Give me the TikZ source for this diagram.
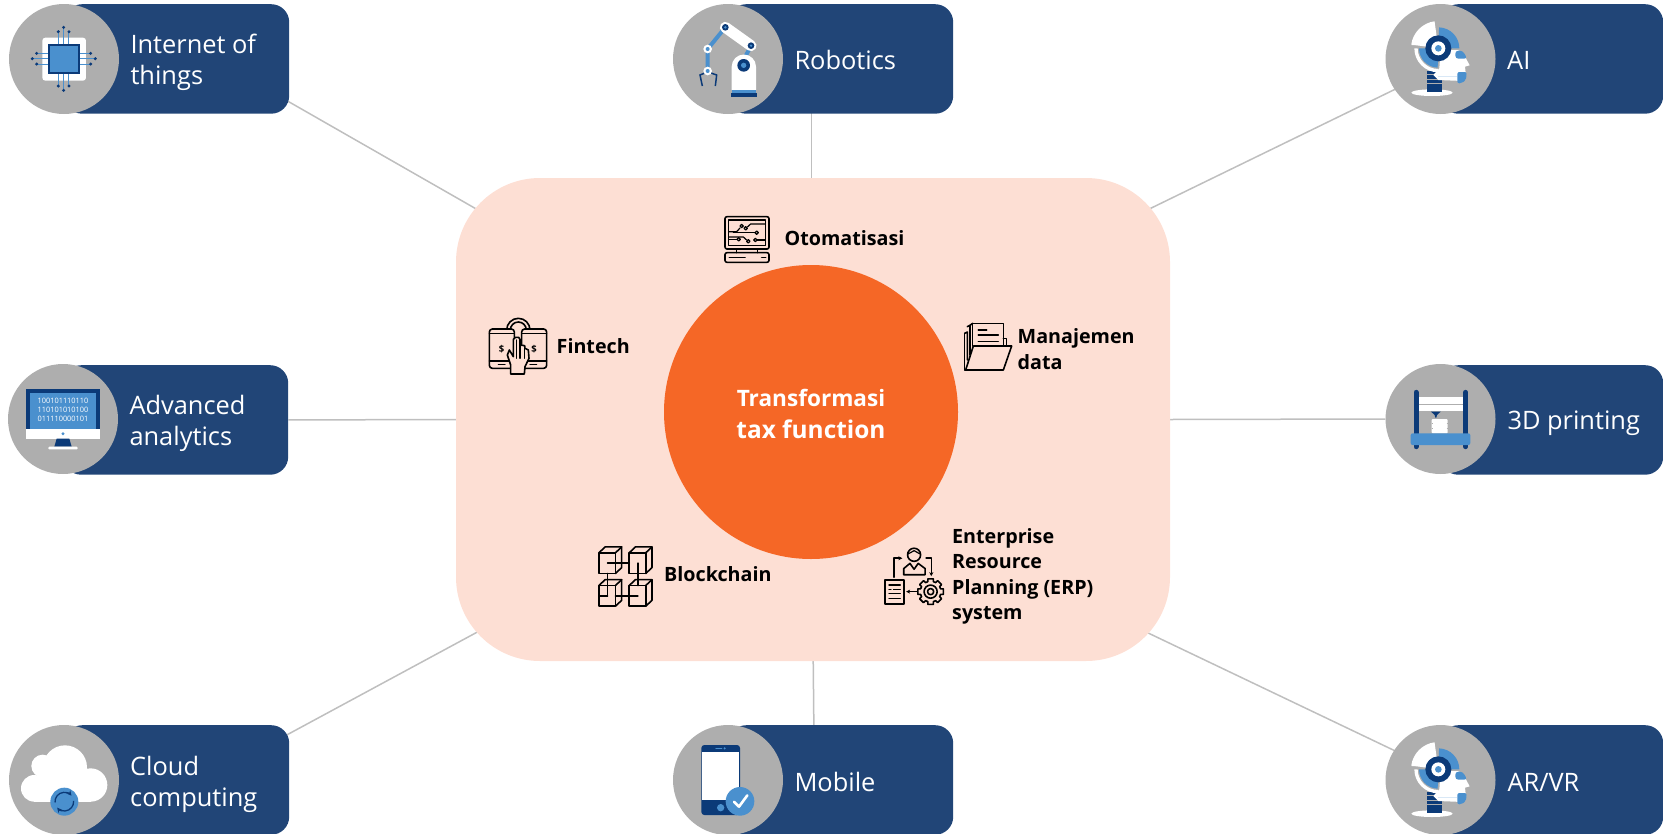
\documentclass[tikz,border=0pt]{standalone}
\usepackage{fontspec}
\setmainfont{Open Sans}
\usetikzlibrary{backgrounds,arrows.meta}
\definecolor{navy}{HTML}{214577}
\definecolor{discgray}{HTML}{AEAEAE}
\definecolor{icdark}{HTML}{0B3A78}
\definecolor{icblue}{HTML}{4A90CE}
\definecolor{iclight}{HTML}{D9E8F6}
\definecolor{hubfill}{HTML}{FDDFD4}
\definecolor{corefill}{HTML}{F56726}
\definecolor{linkgray}{HTML}{BFBFBF}
\tikzset{
  navybox/.style={fill=navy,rounded corners=18pt,minimum height=109.5pt,inner sep=0pt,anchor=north west},
  graydisc/.style={circle,fill=discgray,minimum size=110pt,inner sep=0pt},
  link/.style={draw=linkgray,line width=1.5pt},
  boxlabel/.style={text=white,font=\fontsize{25.4}{31}\selectfont,align=left,inner sep=0pt,anchor=base west},
  hublabel/.style={text=black,font=\fontsize{19.7}{25.4}\selectfont\bfseries,align=left,inner sep=0pt,anchor=base west},
  ink/.style={draw=black,line width=1.6pt,line join=round,line cap=round},
  thinink/.style={draw=black,line width=1.2pt,line join=round,line cap=round},
  zoomed/.style={x=0.33333pt,y=-0.33333pt},
  zoomedb/.style={x=0.3444pt,y=-0.3444pt},
}
\newcommand\ringsec[6]{([shift={(#1,#2)}]#3:#5) arc[start angle=#3,end angle=#4,radius=#5] -- ([shift={(#1,#2)}]#4:#6) arc[start angle=#4,end angle=#3,radius=#6] -- cycle}
\newcommand\headicon{%
  \fill[white] (186,278) ellipse [x radius=62,y radius=10];
  \foreach \yy in {212,226,239,252,265}{\fill[icdark] (170,\yy) rectangle (215,\yy+11);}
  \fill[white] \ringsec{205}{145}{188}{262}{82}{30};
  \fill[white] (125,135) -- (200,135) -- (200,125) -- (130,120) -- cycle;
  \fill[icblue] \ringsec{205}{145}{272}{360}{63}{30};
  \fill[white] (245,150) -- (268,150) -- (266,172) -- (245,172) -- cycle;
  \fill[white] \ringsec{205}{145}{90}{180}{72}{62};
  \fill[icblue] \ringsec{205}{145}{92}{180}{58}{30};
  \fill[white] (212,150) -- (258,150) -- (285,170) -- (299,196) -- (285,200) -- (288,228) -- (278,243) -- (205,240) -- (190,225) -- (208,205) -- cycle;
  \fill[icblue,rounded corners=3pt] (256,152) -- (278,152) -- (292,176) -- (256,176) -- cycle;
  \fill[icblue,rounded corners=2pt] (262,216) -- (290,216) -- (288,240) -- (274,250) -- (262,250) -- cycle;
  \draw[iclight,line width=0.8pt] (205,230) -- (260,230);
  \fill[icdark] (205,145) circle (39);
  \fill[white] (205,145) circle (21);
  \fill[icblue] (205,145) circle (10);
}
\begin{document}
\begin{tikzpicture}[x=1pt,y=-1pt]
\useasboundingbox (0,0) rectangle (1663,833);
% hub
\node[fill=hubfill,rounded corners=84pt,minimum width=714pt,minimum height=483pt,inner sep=0pt] (hub) at (813,419.5) {};
\node[circle,fill=corefill,minimum size=294pt,inner sep=0pt] (core) at (811,412) {};
\node[text=white,font=\fontsize{22.6}{32}\selectfont\bfseries,align=center,inner sep=0pt] (coretext) at (811,414) {Transformasi\\\fontsize{24.4}{32}\selectfont tax function};
% boxes
\node[navybox,minimum width=225pt] (iotbox) at (64,4) {};
\node[navybox,minimum width=225pt] (robbox) at (728,4) {};
\node[navybox,minimum width=223pt] (aibox) at (1440,4) {};
\node[navybox,minimum width=225pt] (advbox) at (63,365) {};
\node[navybox,minimum width=223pt] (prtbox) at (1440,365) {};
\node[navybox,minimum width=225pt] (cldbox) at (64,725) {};
\node[navybox,minimum width=225pt] (mobbox) at (728,725) {};
\node[navybox,minimum width=223pt] (arbox) at (1440,725) {};
\node[graydisc] (iotdisc) at (64,59) {};
\node[graydisc] (robdisc) at (728,59) {};
\node[graydisc] (aidisc) at (1440.5,59) {};
\node[graydisc] (advdisc) at (63,419) {};
\node[graydisc] (prtdisc) at (1440.5,419) {};
\node[graydisc] (clddisc) at (64,780) {};
\node[graydisc] (mobdisc) at (728,780) {};
\node[graydisc] (ardisc) at (1440.5,780) {};
% connector ends
\coordinate (iotend) at (270,91);   \coordinate (hubnw) at (520,234);
\coordinate (robend) at (811.7,100); \coordinate (hubn) at (811.7,200);
\coordinate (aiend) at (1410,82);   \coordinate (hubne) at (1100,233);
\coordinate (cldend) at (270,744);  \coordinate (hubsw) at (520,609);
\coordinate (mobend) at (814,740);  \coordinate (hubs) at (813,640);
\coordinate (arend) at (1410,758);  \coordinate (hubse) at (1100,610);
\begin{scope}[on background layer]
  \draw[link] (iotend) -- (hubnw);
  \draw[link] (robend) -- (hubn);
  \draw[link] (aiend) -- (hubne);
  \draw[link] (advbox.east) -- (hub.west);
  \draw[link] (hub.east) -- (prtdisc.west);
  \draw[link] (cldend) -- (hubsw);
  \draw[link] (mobend) -- (hubs);
  \draw[link] (arend) -- (hubse);
\end{scope}
% labels
\node[boxlabel] (iotlabel) at (130.3,84) {Internet of\\things};
\node[boxlabel] (roblabel) at (794.3,69) {Robotics};
\node[boxlabel] (ailabel) at (1507,69) {AI};
\node[boxlabel] (advlabel) at (129.3,445.5) {Advanced\\analytics};
\node[boxlabel] (prtlabel) at (1507.3,429.5) {3D printing};
\node[boxlabel] (cldlabel) at (130,806.5) {Cloud\\computing};
\node[boxlabel] (moblabel) at (794.3,791) {Mobile};
\node[boxlabel] (arlabel) at (1507.3,791) {AR/VR};
\node[hublabel] (otolabel) at (784.5,245) {Otomatisasi};
\node[hublabel] (finlabel) at (556.5,353.5) {Fintech};
\node[hublabel] (manlabel) at (1017.5,369) {Manajemen\\data};
\node[hublabel] (blklabel) at (664,581.5) {Blockchain};
\node[hublabel] (erplabel) at (952,619.5) {Enterprise\\Resource\\Planning (ERP)\\system};
% IoT icon
\begin{scope}[shift={(0,0)},zoomed]
  \fill[white,rounded corners=3pt] (127,113) rectangle (258,242);
  \foreach \xa/\ya in {175/95,191/82,207/95}{
    \draw[icblue,line width=1pt] (\xa,\ya) -- (\xa,132);
    \fill[icdark] (\xa,\ya) circle (5);}
  \foreach \xa/\ya in {175/258,191/271,207/258}{
    \draw[icblue,line width=1pt] (\xa,\ya) -- (\xa,222);
    \fill[icdark] (\xa,\ya) circle (5);}
  \foreach \xa/\ya in {110/160,97/176,110/192}{
    \draw[icblue,line width=1pt] (\xa,\ya) -- (146,\ya);
    \fill[icdark] (\xa,\ya) circle (5);}
  \foreach \xa/\ya in {272/160,286/176,272/192}{
    \draw[icblue,line width=1pt] (\xa,\ya) -- (238,\ya);
    \fill[icdark] (\xa,\ya) circle (5);}
  \draw[fill=icblue,draw=icdark,line width=1.8pt] (148,134) rectangle (236,220);
\end{scope}
% Robot icon
\begin{scope}[shift={(660,0)},zoomed]
  \draw[icblue,line width=4pt] (196,82) -- (143,147) -- (143,213);
  \draw[icblue,line width=4pt] (273,137) -- (255,172);
  \draw[white,line width=11pt,line cap=round] (196,82) -- (273,137);
  \fill[icdark] (196,82) circle (10); \fill[icblue] (196,82) circle (4);
  \fill[icdark] (273,137) circle (10); \fill[icblue] (273,137) circle (4);
  \fill[white] (143,147) circle (13); \fill[icblue] (143,147) circle (6);
  \draw[icdark,line width=1.5pt] (127,258) -- (120,225) -- (137,218);
  \draw[icdark,line width=1.5pt] (166,258) -- (170,225) -- (150,218);
  \fill[white] (143,213) circle (13); \fill[icblue] (143,213) circle (6);
  \fill[white] (215,270) -- (215,200) arc[start angle=180,end angle=360,radius=36.5] -- (288,270) -- cycle;
  \fill[icblue] (215,270) rectangle (288,278);
  \fill[icdark] (212,278) rectangle (291,290);
  \fill[icdark] (251,196) circle (19); \fill[icblue] (251,196) circle (8);
\end{scope}
% AI and AR icons
\begin{scope}[shift={(1370,0)},zoomed] \headicon \end{scope}
\begin{scope}[shift={(1370,721)},zoomed] \headicon \end{scope}
% Monitor icon
\begin{scope}[shift={(0,350)},zoomed]
  \fill[icdark] (79,118) rectangle (299,237);
  \fill[icblue] (90,128) rectangle (288,237);
  \fill[white] (79,237) rectangle (299,266);
  \fill[icblue] (189,251) circle (5);
  \fill[icdark] (170,266) -- (208,266) -- (215,290) -- (163,290) -- cycle;
  \fill[white,rounded corners=1pt] (145,290) rectangle (233,298);
  \node[text=white,font=\fontsize{7.4}{8.8}\selectfont,align=center,inner sep=0pt] (bits) at (189,179) {100101110110\\110101010100\\011110000101};
\end{scope}
% Printer icon
\begin{scope}[shift={(1370,350)},zoomed]
  \fill[white] (146,142) rectangle (279,162);
  \fill[white] (146,166) rectangle (279,182);
  \fill[icdark] (183,185) -- (212,185) -- (201,195) -- (199,203) -- (196,203) -- (194,195) -- cycle;
  \fill[white,rounded corners=1pt] (185,207) rectangle (233,250);
  \foreach \yy in {220,235}{\draw[discgray,line width=0.4pt] (185,\yy) -- (188,\yy);\draw[discgray,line width=0.4pt] (230,\yy) -- (233,\yy);}
  \draw[icdark,line width=5pt,line cap=round] (138,127) -- (138,290);
  \draw[icdark,line width=5pt,line cap=round] (287,127) -- (287,290);
  \fill[icblue,rounded corners=2pt] (122,250) -- (301,250) -- (301,285) -- (122,285) -- cycle;
\end{scope}
% Cloud icon
\begin{scope}[shift={(0,710)},zoomed]
  \fill[white] (103,235) circle (40);
  \fill[white] (128,168) circle (34);
  \fill[white] (195,172) circle (66);
  \fill[white] (272,225) circle (50);
  \fill[white] (103,200) rectangle (272,275);
  \fill[icblue] (193,275) circle (42);
  \draw[icdark,line width=1.3pt,-{Stealth[length=5pt,width=5pt]}] ([shift={(193,275)}]175:28) arc[start angle=175,end angle=320,radius=28];
  \draw[icdark,line width=1.3pt,-{Stealth[length=5pt,width=5pt]}] ([shift={(193,275)}]355:28) arc[start angle=355,end angle=500,radius=28];
\end{scope}
% Mobile icon
\begin{scope}[shift={(660,710)},zoomed]
  \fill[icdark,rounded corners=3pt] (124,105) rectangle (240,315);
  \fill[white] (126,125) rectangle (238,270);
  \draw[icblue,line width=1.3pt,line cap=round] (168,115) -- (185,115);
  \fill[icblue] (194,115) circle (3.5);
  \fill[icblue] (182,293) circle (11);
  \fill[icblue] (240,274) circle (43);
  \draw[white,line width=2.6pt,line cap=round,line join=round] (222,275) -- (237,290) -- (262,256);
\end{scope}
% Otomatisasi icon
\begin{scope}[shift={(470,200)},zoomed]
  \draw[ink,rounded corners=2pt] (765,50) rectangle (897,147);
  \draw[ink] (775,60) rectangle (887,137);
  \draw[ink] (800,147) -- (800,158); \draw[ink] (862,147) -- (862,158);
  \draw[ink,rounded corners=2pt] (765,158) rectangle (897,187);
  \draw[ink] (778,172) -- (825,172); \draw[ink] (875,172) -- (887,172);
  \draw[thinink] (777,95) -- (800,95) -- (810,84);
  \draw[thinink] (815,78) circle (5);
  \draw[thinink] (885,72) -- (842,72) -- (832,81);
  \draw[thinink] (827,85) circle (5);
  \draw[thinink] (790,98) -- (855,98); \draw[thinink] (860,98) circle (5);
  \draw[thinink] (777,118) -- (800,118); \draw[thinink] (806,118) circle (5);
  \draw[thinink] (777,111) -- (820,111) -- (830,120); \draw[thinink] (835,124) circle (5);
  \draw[thinink] (885,120) -- (862,120); \draw[thinink] (856,120) circle (5);
\end{scope}
% Fintech icon
\begin{scope}[shift={(470,200)},zoomed]
  \draw[ink] ([shift={(145,390)}]180:35) arc[start angle=180,end angle=360,radius=35];
  \draw[ink] ([shift={(145,390)}]180:24) arc[start angle=180,end angle=360,radius=24];
  \draw[ink,rounded corners=3pt,fill=hubfill] (58,387) rectangle (133,505);
  \draw[ink,rounded corners=3pt,fill=hubfill] (155,387) rectangle (230,505);
  \draw[thinink] (58,401) -- (133,401); \draw[thinink] (155,401) -- (230,401);
  \draw[thinink] (58,483) -- (133,483); \draw[thinink] (155,483) -- (230,483);
  \draw[thinink] (85,493) -- (105,493); \draw[thinink] (180,493) -- (200,493);
  \node[font=\fontsize{9.5}{10}\selectfont\bfseries,inner sep=0pt] (dollara) at (95,447) {\$};
  \node[font=\fontsize{9.5}{10}\selectfont\bfseries,inner sep=0pt] (dollarb) at (192,447) {\$};
  \draw[ink,fill=hubfill] (122,522) -- (122,495) -- (112,465) -- (118,450) -- (130,470) -- (130,418) -- (136,412) -- (146,412) -- (150,418) -- (150,435) -- (164,437) -- (165,445) -- (175,450) -- (177,475) -- (165,500) -- (163,522) -- cycle;
  \draw[thinink] (140,420) -- (140,475); \draw[thinink] (150,435) -- (150,475); \draw[thinink] (163,440) -- (163,475);
\end{scope}
% Folder icon
\begin{scope}[shift={(950,310)},zoomed]
  \draw[ink] (44,70) -- (44,180) -- (47,180);
  \draw[ink] (44,70) -- (52,66) -- (52,150);
  \draw[ink] (52,50) -- (60,46) -- (60,135);
  \draw[ink] (60,46) -- (68,40);
  \draw[ink] (68,108) -- (68,40) -- (160,40) -- (160,108);
  \draw[ink] (160,85) -- (170,85) -- (170,108);
  \draw[ink] (85,60) -- (110,60); \draw[ink] (85,75) -- (145,75); \draw[ink] (85,95) -- (145,95);
  \draw[ink,fill=hubfill] (70,108) -- (185,108) -- (160,180) -- (47,180) -- cycle;
\end{scope}
% Blockchain icon
\begin{scope}[shift={(580,508)},zoomedb]
  \foreach \xa/\ya in {55/130,143/130,55/225,143/225}{
    \draw[ink] (\xa,\ya) rectangle (\xa+48,\ya+60);
    \draw[ink] (\xa,\ya) -- (\xa+18,\ya-17) -- (\xa+66,\ya-17) -- (\xa+66,\ya+43) -- (\xa+48,\ya+60);
    \draw[ink] (\xa+48,\ya) -- (\xa+66,\ya-17);
  }
  \draw[ink] (80,160) -- (143,160);
  \draw[ink] (168,160) -- (168,225);
  \draw[ink] (80,190) -- (80,255);
  \draw[ink] (80,255) -- (55,255);
  \draw[ink] (103,255) -- (168,255);
\end{scope}
% ERP icon
\begin{scope}[shift={(580,510)},zoomedb]
  \draw[ink] (970,130) circle (19);
  \draw[thinink] (952,128) -- (970,118) -- (988,128);
  \draw[ink] (940,188) -- (940,170) -- (958,155) -- (970,172) -- (982,155) -- (1002,170) -- (1002,188) -- cycle;
  \draw[ink,-{Stealth[length=4pt,width=4pt]}] (912,195) -- (912,140) -- (936,140);
  \draw[ink,-{Stealth[length=4pt,width=4pt]}] (1005,140) -- (1020,140) -- (1020,192);
  \draw[ink,line width=2pt] (887,203) rectangle (940,272);
  \draw[thinink] (897,218) -- (930,218); \draw[thinink] (897,230) -- (903,230); \draw[thinink] (910,230) -- (930,230);
  \draw[thinink] (897,243) -- (930,243); \draw[thinink] (897,258) -- (930,258);
  \draw[ink,-{Stealth[length=4pt,width=4pt]}] (978,237) -- (947,237);
  \begin{scope}[shift={(1018,237)}]
    \draw[ink] (-12:38) \foreach \a in {0,45,...,315}{ -- (\a-12:38) -- (\a+12:38) -- (\a+16:30) -- (\a+29:30)} -- cycle;
    \draw[ink] (0,0) circle (19);
    \draw[ink] (0,0) circle (9);
  \end{scope}
\end{scope}
\end{tikzpicture}
\end{document}
